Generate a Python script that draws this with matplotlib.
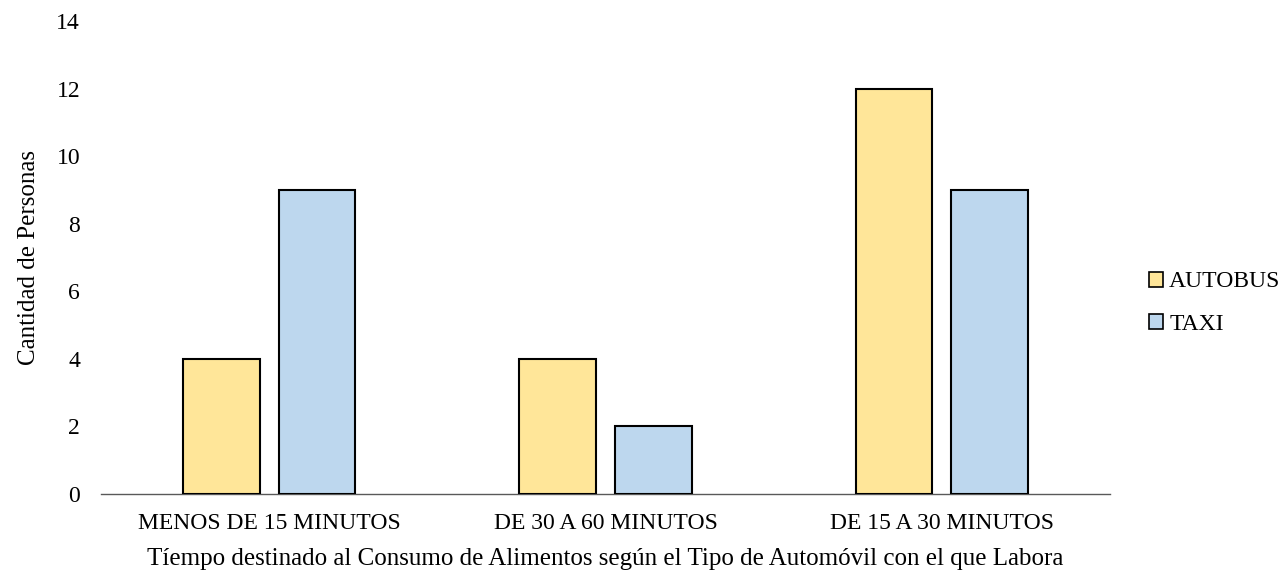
import matplotlib
matplotlib.use("Agg")
import matplotlib.pyplot as plt
import numpy as np

categories = ["MENOS DE 15 MINUTOS", "DE 30 A 60 MINUTOS", "DE 15 A 30 MINUTOS"]
autobus = [4, 4, 12]
taxi = [9, 2, 9]
series_names = ["AUTOBUS", "TAXI"]
colors = ["#FFE699", "#BDD7EE"]
yticks = [0, 2, 4, 6, 8, 10, 12, 14]

plt.rcParams["font.family"] = ["Liberation Serif", "DejaVu Serif"]

fig = plt.figure(figsize=(12.85, 5.73), dpi=100)
ax = fig.add_axes([0.0786, 0.1379, 0.7852, 0.8254])

x = np.arange(len(categories))
w = 0.228
off = 0.142
ax.bar(x - off, autobus, w, color=colors[0], edgecolor="black", linewidth=1.5,
       label=series_names[0], zorder=3)
ax.bar(x + off, taxi, w, color=colors[1], edgecolor="black", linewidth=1.5,
       label=series_names[1], zorder=3)

ax.set_xlim(-0.5, len(categories) - 0.5)
ax.set_ylim(0, 14)
ax.set_yticks(yticks)
ax.set_xticks(x)
ax.set_xticklabels(categories, fontsize=17)
ax.tick_params(axis="y", length=0, labelsize=17, pad=15)
ax.tick_params(axis="x", length=0, labelsize=17, pad=14)

for s in ["top", "right", "left"]:
    ax.spines[s].set_visible(False)
ax.spines["bottom"].set_color("#595959")
ax.spines["bottom"].set_linewidth(1.0)

ax.set_xlabel("Tíempo destinado al Consumo de Alimentos según el Tipo de Automóvil con el que Labora",
              fontsize=18, labelpad=10)
ax.set_ylabel("Cantidad de Personas", fontsize=18, labelpad=12)

handles, labels = ax.get_legend_handles_labels()
leg = fig.legend(handles, labels, loc="center left",
                 bbox_to_anchor=(1149 / 1285, 1 - 303 / 573), frameon=False,
                 fontsize=17, handlelength=0.6, handleheight=0.6, handletextpad=0.25,
                 labelspacing=0.9, borderpad=0, borderaxespad=0)
for h in leg.legend_handles:
    h.set_linewidth(1.2)

fig.savefig("out.png", dpi=100)
